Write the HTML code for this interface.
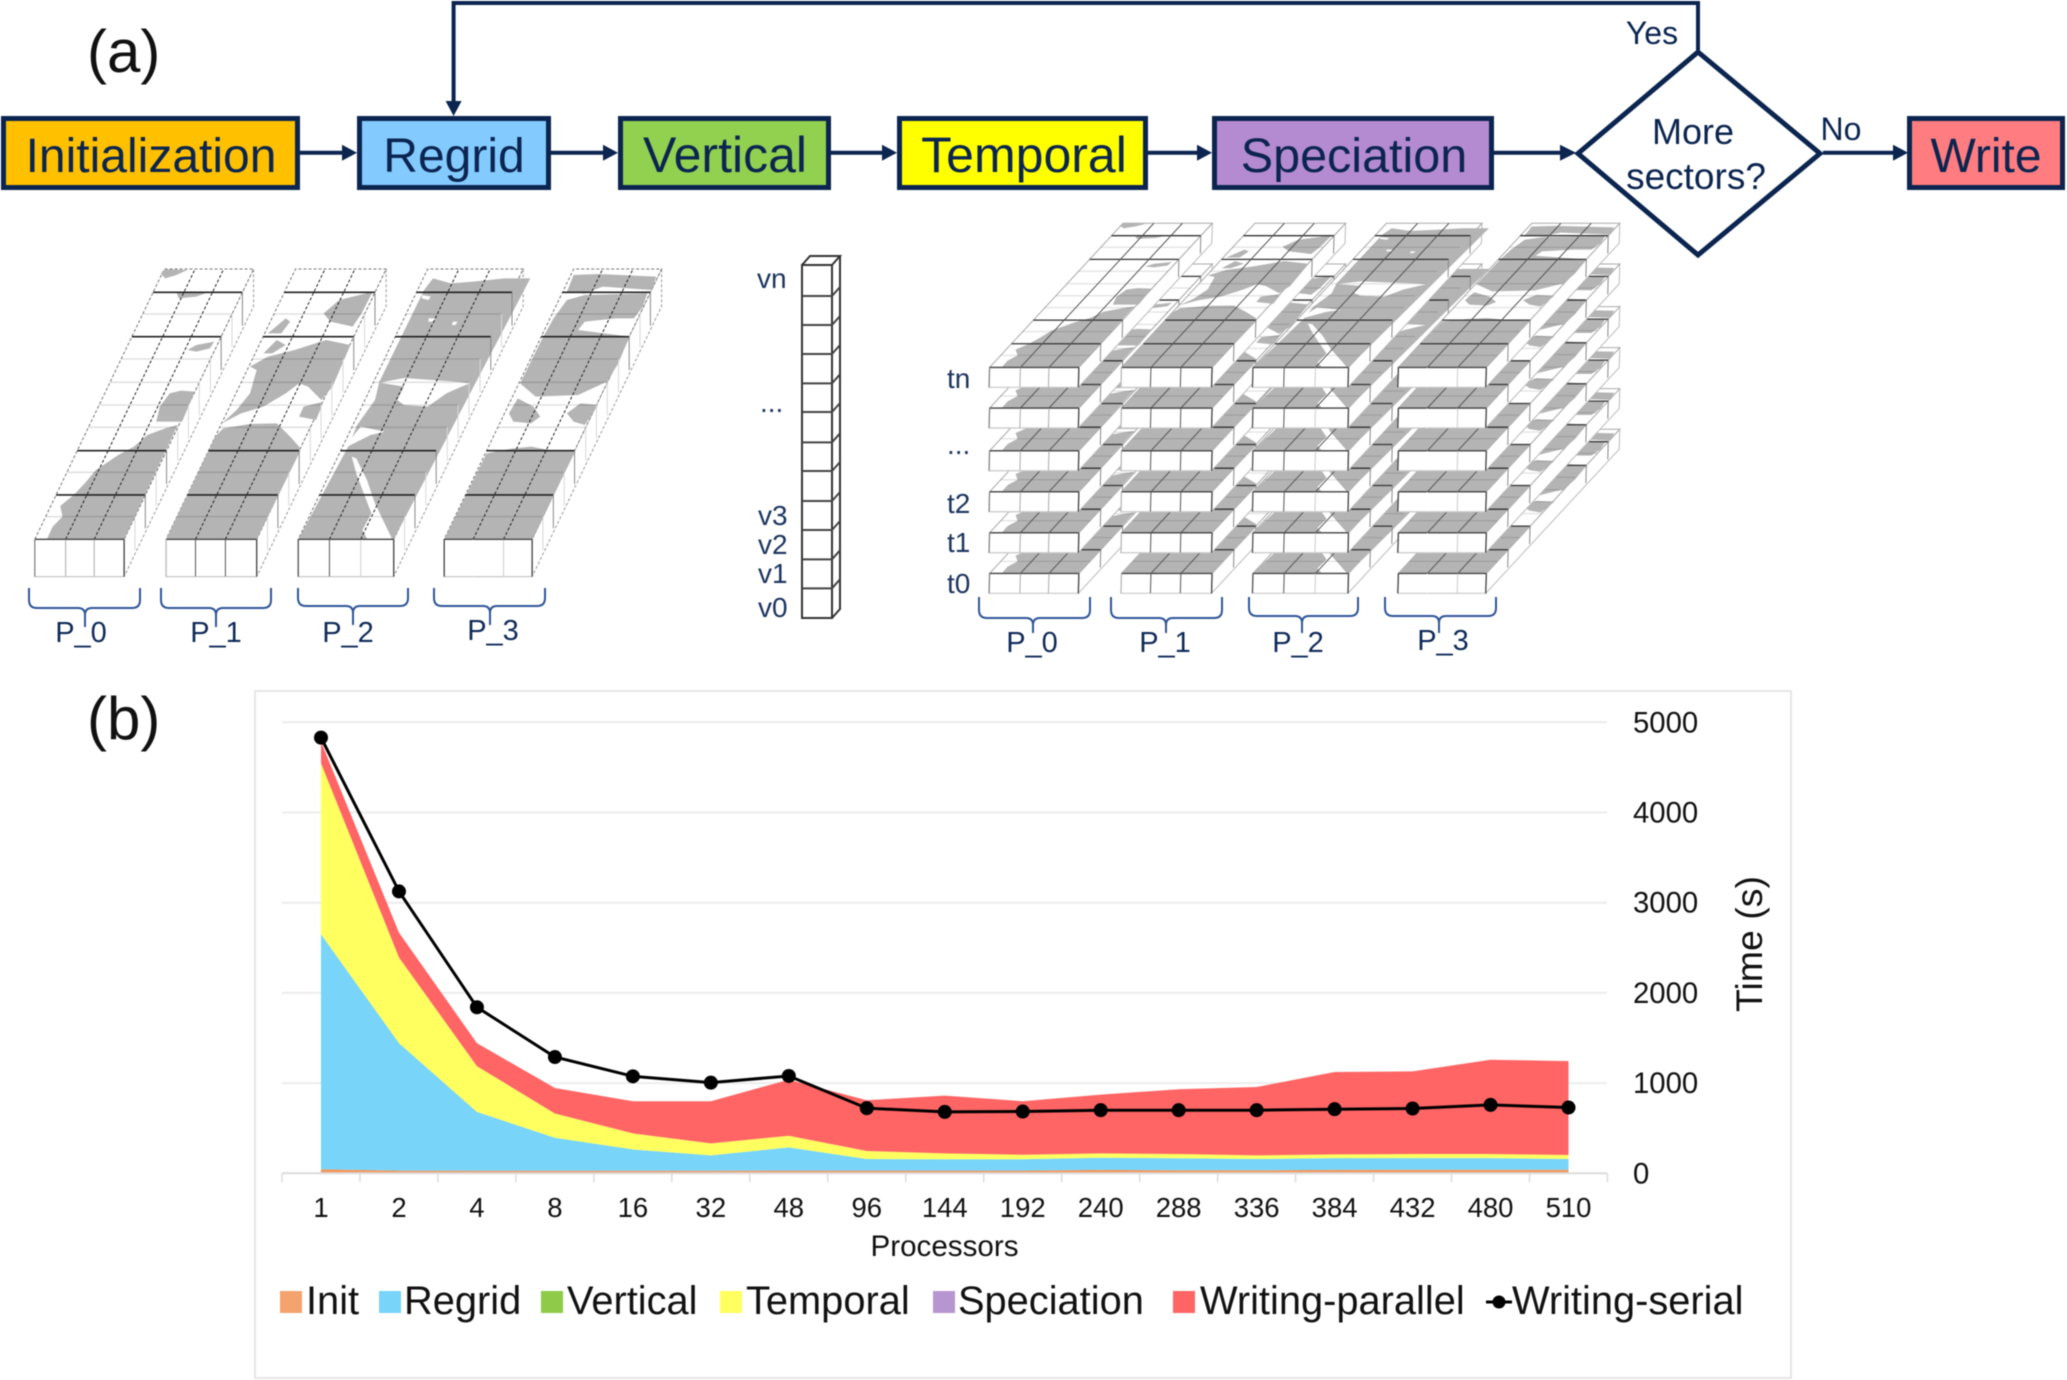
<!DOCTYPE html>
<html lang="en">
<head>
<meta charset="utf-8">
<title>Emission processing workflow and scaling chart</title>
<style>
html,body{margin:0;padding:0;background:#fff;width:2067px;height:1380px;overflow:hidden}
svg{display:block;filter:blur(0.45px)}
text{font-family:"Liberation Sans",Arial,sans-serif}
.flow{fill:#0b2550;font-size:48px;text-anchor:middle}
.dec{fill:#0b2550;font-size:36px;text-anchor:middle}
.lab{fill:#0b2550;font-size:32px;text-anchor:middle}
.sm{fill:#1c3560;font-size:28px}
.pl{fill:#0f2a58;font-size:29px;text-anchor:middle}
.tick{fill:#111;font-size:27.5px;text-anchor:middle}
.ytick{fill:#111;font-size:29.3px}
.leg{fill:#111;font-size:39.8px}
</style>
</head>
<body>
<svg id="root" width="2067" height="1380" viewBox="0 0 2067 1380" xmlns="http://www.w3.org/2000/svg">
  <rect x="0" y="0" width="2067" height="1380" fill="#fff"/>
  <text x="87" y="72" font-size="60" fill="#111">(a)</text>
  <text x="87" y="739" font-size="60" fill="#111">(b)</text>

  <g>
    <g fill="none" stroke="#0b2550" stroke-width="4">
      <path d="M300 152.7H345M551 152.7H606M830 152.7H885M1147 152.7H1200M1494 152.7H1564M1823 152.7H1896"/>
      <path d="M1698 50V3H453.6V104" stroke-width="4"/>
    </g>
    <g fill="#0b2550">
      <path d="M357 152.7l-15-8v16z"/>
      <path d="M618 152.7l-15-8v16z"/>
      <path d="M897 152.7l-15-8v16z"/>
      <path d="M1212 152.7l-15-8v16z"/>
      <path d="M1576 152.7l-16-8v16z"/>
      <path d="M1908 152.7l-15-8v16z"/>
      <path d="M453.6 116l-8-15h16z"/>
    </g>
    <g stroke="#0b2550" stroke-width="5">
      <rect x="3.5" y="118.500" width="294" height="69" fill="#FFC000"/>
      <rect x="359.5" y="118.500" width="189" height="69" fill="#83CAFF"/>
      <rect x="620.5" y="118.500" width="208" height="69" fill="#92D050"/>
      <rect x="899.5" y="118.500" width="246" height="69" fill="#FFFF00"/>
      <rect x="1214.5" y="118.500" width="277" height="69" fill="#B48AD0"/>
      <rect x="1909.5" y="118.500" width="153" height="69" fill="#FF7C80"/>
      <path d="M1698 52L1820 153.500L1698 255L1578 153.500Z" fill="#fff" stroke-linejoin="miter"/>
    </g>
    <text class="flow" x="151" y="172">Initialization</text>
    <text class="flow" x="454" y="172">Regrid</text>
    <text class="flow" x="725" y="172" font-size="50" style="font-size:50px">Vertical</text>
    <text class="flow" x="1024" y="172" style="font-size:50px">Temporal</text>
    <text class="flow" x="1354" y="172" style="font-size:48.5px">Speciation</text>
    <text class="flow" x="1986" y="172">Write</text>
    <text class="dec" x="1693" y="144">More</text>
    <text class="dec" x="1696" y="189" style="font-size:37px">sectors?</text>
    <text class="lab" x="1652" y="44">Yes</text>
    <text class="lab" x="1841" y="140">No</text>
  </g>

  <g id="leftSlabs"></g>
  <g id="rightSlabs"></g>
  <g id="column"></g>

  <g fill="none" stroke="#2f5597" stroke-width="2">
    <path d="M29 588v12q0 8 8 8H78q7 0 7 7v12M85 615q0-7 7-7H132q8 0 8-8v-12"/>
    <path d="M161 588v12q0 8 8 8H209q7 0 7 7v12M216 615q0-7 7-7H263q8 0 8-8v-12"/>
    <path d="M298 588v10q0 8 8 8H346q7 0 7 7v12M353 613q0-7 7-7H400q8 0 8-8v-10"/>
    <path d="M434 588v10q0 8 8 8H483q7 0 7 7v12M490 613q0-7 7-7H537q8 0 8-8v-10"/>
    <path d="M979 597v13q0 8 8 8H1026q7 0 7 7v8M1033 625q0-7 7-7H1082q8 0 8-8v-13"/>
    <path d="M1111 597v13q0 8 8 8H1159q7 0 7 7v8M1166 625q0-7 7-7H1214q8 0 8-8v-13"/>
    <path d="M1249 597v11q0 8 8 8H1295q7 0 7 7v10M1302 623q0-7 7-7H1350q8 0 8-8v-11"/>
    <path d="M1385 597v11q0 8 8 8H1432q7 0 7 7v10M1439 623q0-7 7-7H1488q8 0 8-8v-11"/>
  </g>
  <g>
    <text class="pl" x="81" y="642">P_0</text>
    <text class="pl" x="216" y="642">P_1</text>
    <text class="pl" x="348" y="642">P_2</text>
    <text class="pl" x="493" y="640">P_3</text>
    <text class="pl" x="1032" y="652">P_0</text>
    <text class="pl" x="1165" y="652">P_1</text>
    <text class="pl" x="1298" y="652">P_2</text>
    <text class="pl" x="1443" y="650">P_3</text>
  </g>
  <g>
    <text class="sm" x="757" y="288">vn</text>
    <text class="sm" x="760" y="412">...</text>
    <text class="sm" x="758" y="525">v3</text>
    <text class="sm" x="758" y="554">v2</text>
    <text class="sm" x="758" y="583">v1</text>
    <text class="sm" x="758" y="617">v0</text>
    <text class="sm" x="947" y="388">tn</text>
    <text class="sm" x="947" y="454">...</text>
    <text class="sm" x="947" y="513">t2</text>
    <text class="sm" x="947" y="552">t1</text>
    <text class="sm" x="947" y="593">t0</text>
  </g>

  <rect x="255" y="691" width="1536" height="687" fill="#fff" stroke="#e6e6e6" stroke-width="2"/>
  <g id="chart"></g>
</svg>

<script>
// ---- chart data ----
const categories = ["1","2","4","8","16","32","48","96","144","192","240","288","336","384","432","480","510"];
const yTicks = [0,1000,2000,3000,4000,5000];
const initValues = [45,30,28,28,28,28,30,30,30,30,38,33,33,38,40,40,40];
const regridValues = [2606,1413,653,366,237,171,257,128,125,125,135,133,125,131,129,129,118];
const verticalValues = [0,0,0,0,0,0,0,0,0,0,0,0,0,0,0,0,0];
const temporalValues = [1896,950,508,269,177,132,129,89,66,51,48,48,41,41,45,45,45];
const speciationValues = [0,0,0,0,0,0,0,0,0,0,0,0,0,0,0,0,0];
const writingParallelValues = [239,276,254,283,357,468,622,563,640,593,652,717,758,913,916,1045,1041];
const writingSerialValues = [4830,3125,1841,1289,1075,1005,1079,722,681,685,700,700,700,711,718,758,729];

const NS = 'http://www.w3.org/2000/svg';
function mk(tag, attrs, parent, txt) {
  const el = document.createElementNS(NS, tag);
  for (const k in attrs) el.setAttribute(k, attrs[k]);
  if (txt !== undefined) el.textContent = txt;
  parent.appendChild(el);
  return el;
}

// ---- chart ----
(function () {
  const g = document.getElementById('chart');
  const x = i => 321 + i * 77.97;
  const y = v => 1173.3 - v * 0.0902;
  const AX0 = 282, AX1 = 1607;

  yTicks.forEach(t => {
    if (t > 0) {
      const gl = mk('line', {x1: AX0, x2: AX1, y1: y(t), y2: y(t), stroke: '#ececec', 'stroke-width': 2}, g);
      
      
    }
    const lb = mk('text', {class: 'ytick', x: 1633, y: y(t) + 10}, g, String(t));
    
    
  });

  const layers = [
    ['init', initValues, '#F4965A'],
    ['regrid', regridValues, '#78D4F8'],
    ['vertical', verticalValues, '#92D050'],
    ['temporal', temporalValues, '#FFFF5F'],
    ['speciation', speciationValues, '#B48AD0'],
    ['writing-parallel', writingParallelValues, '#FF6565']
  ];
  let base = categories.map(() => 0);
  layers.forEach(l => {
    const top = base.map((b, i) => b + l[1][i]);
    let d = 'M' + top.map((v, i) => x(i).toFixed(1) + ' ' + y(v).toFixed(1)).join('L');
    for (let i = categories.length - 1; i >= 0; i--) d += 'L' + x(i).toFixed(1) + ' ' + y(base[i]).toFixed(1);
    const a = mk('path', {d: d + 'Z', fill: l[2]}, g);
    
    
    base = top;
  });

  const axis = mk('line', {x1: AX0, x2: AX1, y1: y(0), y2: y(0), stroke: '#dcdcdc', 'stroke-width': 2}, g);
  
  
  for (let i = 0; i <= categories.length; i++) {
    const tx = x(i) - 39;
    const tk = mk('line', {x1: tx, x2: tx, y1: y(0), y2: y(0) + 9, stroke: '#dcdcdc', 'stroke-width': 1.5}, g);
    
    
  }
  categories.forEach((c, i) => {
    const lb = mk('text', {class: 'tick', x: x(i), y: 1217}, g, c);
    
    
  });

  const line = mk('polyline', {
    points: writingSerialValues.map((v, i) => x(i).toFixed(1) + ',' + y(v).toFixed(1)).join(' '),
    fill: 'none', stroke: '#000', 'stroke-width': 3
  }, g);
  
  
  writingSerialValues.forEach((v, i) => {
    const p = mk('circle', {cx: x(i), cy: y(v), r: 7, fill: '#000'}, g);
    
    
  });

  const xt = mk('text', {x: 944.5, y: 1256, 'font-size': 29.6, fill: '#111', 'text-anchor': 'middle'}, g, 'Processors');
  
  
  const yt = mk('text', {transform: 'translate(1762,944) rotate(-90)', 'font-size': 37.5, fill: '#111', 'text-anchor': 'middle'}, g, 'Time (s)');
  
  

  const legend = mk('g', {}, g);
  
  
  [['Init', 280, 306, '#F4A36E'], ['Regrid', 379, 404, '#78D4F8'], ['Vertical', 541, 567, '#8DCB48'],
   ['Temporal', 720, 746, '#FFFF5F'], ['Speciation', 933, 958, '#B795D0'], ['Writing-parallel', 1173, 1200, '#FF6565']
  ].forEach(e => {
    const s = mk('rect', {x: e[1], y: 1291, width: 22, height: 22, fill: e[3]}, legend);
    
    
    const t = mk('text', {class: 'leg', x: e[2], y: 1314}, legend, e[0]);
    
    
  });
  const sl = mk('line', {x1: 1486, x2: 1512, y1: 1302, y2: 1302, stroke: '#000', 'stroke-width': 3}, legend);
  
  
  const sm = mk('circle', {cx: 1499, cy: 1302, r: 6.5, fill: '#000'}, legend);
  
  
  const st = mk('text', {class: 'leg', x: 1512, y: 1314}, legend, 'Writing-serial');
  
  
})();

// ---- decomposition slabs (traced in a 2.24x / 3x working space) ----
const slabDefs = [
  {L: 78, R: 278, div: [147, 211], frontDiv: ['#aaa', '#aaa'], leftEdge: '#888',
   land: [
    "105,868 118,830 140,800 135,768 165,735 190,700 215,660 265,615 300,590 330,555 370,535 398,525 278,868",
    "350,515 358,470 380,430 405,422 436,425 408,515",
    "420,300 440,285 480,275 470,295 440,305",
    "360,70 370,58 420,60 395,75 370,85",
    "395,125 470,125 440,140 400,145"],
   white: []},
  {L: 372, R: 575, div: [438, 505], frontDiv: ['#555', '#555'], leftEdge: '#bbb',
   land: [
    "372,868 482,560 500,535 560,522 620,520 650,560 670,590 672,605 575,868",
    "497,520 530,480 560,430 575,360 560,350 600,320 660,300 730,270 785,285 745,410 720,450 690,410 670,400 640,430 590,470 540,490",
    "680,470 725,455 708,510 670,500",
    "725,190 760,150 835,125 810,190 790,230 740,215",
    "590,310 620,270 640,285 610,310",
    "600,250 640,205 650,215 630,250"],
   white: []},
  {L: 668, R: 882, div: [738, 808], frontDiv: ['#555', '#ccc'], leftEdge: '#555',
   land: [
    "668,868 882,868 1188,85 1130,85 1060,95 1010,100 970,85 950,120 850,395 840,450 800,525 780,590"],
   white: [
    "788,620 798,625 822,690 840,760 878,866 822,866 812,840 832,790 812,720 798,670",
    "775,592 830,555 862,545 808,530 790,560",
    "850,398 905,384 1030,396 1052,400 1030,412 1000,430 958,470 905,465 890,450 905,410",
    "960,205 975,205 970,215 960,215", "1015,215 1025,215 1020,225 1012,225",
    "945,135 965,140 960,150 945,145"]},
  {L: 995, R: 1192, div: [1060, 1128], frontDiv: ['#fff', '#ccc'], leftEdge: '#444',
   land: [
    "995,868 1090,610 1150,595 1190,590 1230,600 1290,600 1192,868",
    "1165,400 1215,265 1240,205 1270,150 1310,135 1450,130 1440,170 1420,205 1380,205 1310,215 1295,240 1410,260 1385,340 1360,395 1295,435 1200,440",
    "1270,125 1285,75 1340,72 1470,80 1460,120 1350,110 1310,130",
    "1270,490 1300,460 1340,465 1310,525 1285,515",
    "1140,490 1160,445 1195,470 1210,500 1190,520 1150,515"],
   white: []}
];
const darkRows = [127, 260, 602, 735];
const lightRows = [192, 327, 397, 465, 532, 667, 800];
const SLOPE = 0.3576;

function drawSlab(parent, k, transform, dashed, name) {
  const d = slabDefs[k];
  const NSS = 'non-scaling-stroke';
  const g = mk('g', {transform: transform}, parent);
  
  
  const ex = y => (868 - y) * SLOPE;
  const back = ex(57);
  const side = mk('polygon', {points: `${d.R},868 ${d.R + back},57 ${d.R + back},169 ${d.R},980`, fill: '#fff', stroke: dashed ? '#999' : '#bbb', 'stroke-width': 1, 'stroke-dasharray': dashed ? '3 2' : 'none', 'vector-effect': NSS}, g);
  
  
  const top = mk('polygon', {points: `${d.L},868 ${d.R},868 ${d.R + back},57 ${d.L + back},57`, fill: '#fff', stroke: dashed ? '#777' : '#aaa', 'stroke-width': 1, 'stroke-dasharray': dashed ? '3 2' : 'none', 'vector-effect': NSS}, g);
  
  
  d.land.forEach(p => {
    const el = mk('polygon', {points: p, fill: '#b4b4b4'}, g);
    
    
  });
  d.white.forEach(p => {
    const el = mk('polygon', {points: p, fill: '#fff'}, g);
    
    
  });
  lightRows.forEach(y => {
    const el = mk('line', {x1: d.L + ex(y), x2: d.R + ex(y), y1: y, y2: y, stroke: '#000', 'stroke-opacity': 0.14, 'stroke-width': dashed ? 1.3 : 1, 'vector-effect': NSS}, g);
    
    
    if (dashed) {
      const v = mk('line', {x1: d.R + ex(y), x2: d.R + ex(y), y1: y, y2: y + 100, stroke: '#d8d8d8', 'stroke-width': 1, 'vector-effect': NSS}, g);
      
      
    }
  });
  darkRows.forEach(y => {
    const el = mk('line', {x1: d.L + ex(y), x2: d.R + ex(y), y1: y, y2: y, stroke: dashed ? '#222' : '#333', 'stroke-width': dashed ? 1.6 : 1.3, 'vector-effect': NSS}, g);
    
    
    const v = mk('line', {x1: d.R + ex(y), x2: d.R + ex(y), y1: y, y2: y + 100, stroke: '#888', 'stroke-width': 1, 'vector-effect': NSS}, g);
    
    
  });
  d.div.forEach(x => {
    const el = mk('line', {x1: x, x2: x + back, y1: 868, y2: 57, stroke: dashed ? '#222' : '#555', 'stroke-width': 1, 'stroke-dasharray': dashed ? '3 2' : 'none', 'vector-effect': NSS}, g);
    
    
  });
  const f = mk('rect', {x: d.L, y: 868, width: d.R - d.L, height: 112, fill: '#fff', stroke: '#c8c8c8', 'stroke-width': 1.2, 'vector-effect': NSS}, g);
  
  
  const ft = mk('line', {x1: d.L, x2: d.R, y1: 868, y2: 868, stroke: '#444', 'stroke-width': 1.4, 'vector-effect': NSS}, g);
  
  
  const fr = mk('line', {x1: d.R, x2: d.R, y1: 868, y2: 980, stroke: '#444', 'stroke-width': 1.3, 'vector-effect': NSS}, g);
  
  
  const fl = mk('line', {x1: d.L, x2: d.L, y1: 868, y2: 980, stroke: d.leftEdge, 'stroke-width': 1.3, 'vector-effect': NSS}, g);
  
  
  d.div.forEach((x, i) => {
    const el = mk('line', {x1: x, x2: x, y1: 869, y2: 979, stroke: d.frontDiv[i], 'stroke-width': 1, 'vector-effect': NSS}, g);
    
    
  });
}

(function () {
  const base = 'matrix(0.4464,0,0,0.3333,0,250)';
  const left = document.getElementById('leftSlabs');
  for (let k = 0; k < 4; k++) drawSlab(left, k, base, true, 'slab-p' + k);

  const right = document.getElementById('rightSlabs');
  const frontX = [989.6, 1121.5, 1253, 1398.4];
  const layerY = [573.3, 532.7, 491.7, 450.7, 408, 367.3];
  layerY.forEach((Y, li) => {
    for (let k = 3; k >= 0; k--) {
      const X0 = slabDefs[k].L / 2.24;
      const e = frontX[k] - X0 + 7.98;
      const f = Y - 287.5;
      const m = `matrix(1,0,-0.0148,0.5333,${e.toFixed(2)},${f.toFixed(2)}) ${base}`;
      drawSlab(right, k, m, false, 'time-layer-' + li + '-slab-p' + k);
    }
  });

  const c = document.getElementById('column');
  const box = mk('path', {d: 'M802 265H832V618H802ZM802 265L810 256H840L832 265M840 256V609L832 618', fill: '#fff', stroke: '#333', 'stroke-width': 2}, c);
  
  
  [258, 345, 432, 520, 606, 697, 783, 873, 960, 1048, 1135].forEach(z => {
    const yy = 210 + z / 3;
    const l = mk('path', {d: `M802 ${yy}H832L840 ${yy - 9}`, fill: 'none', stroke: '#444', 'stroke-width': 2}, c);
    
    
  });
})();
</script>
</body>
</html>
